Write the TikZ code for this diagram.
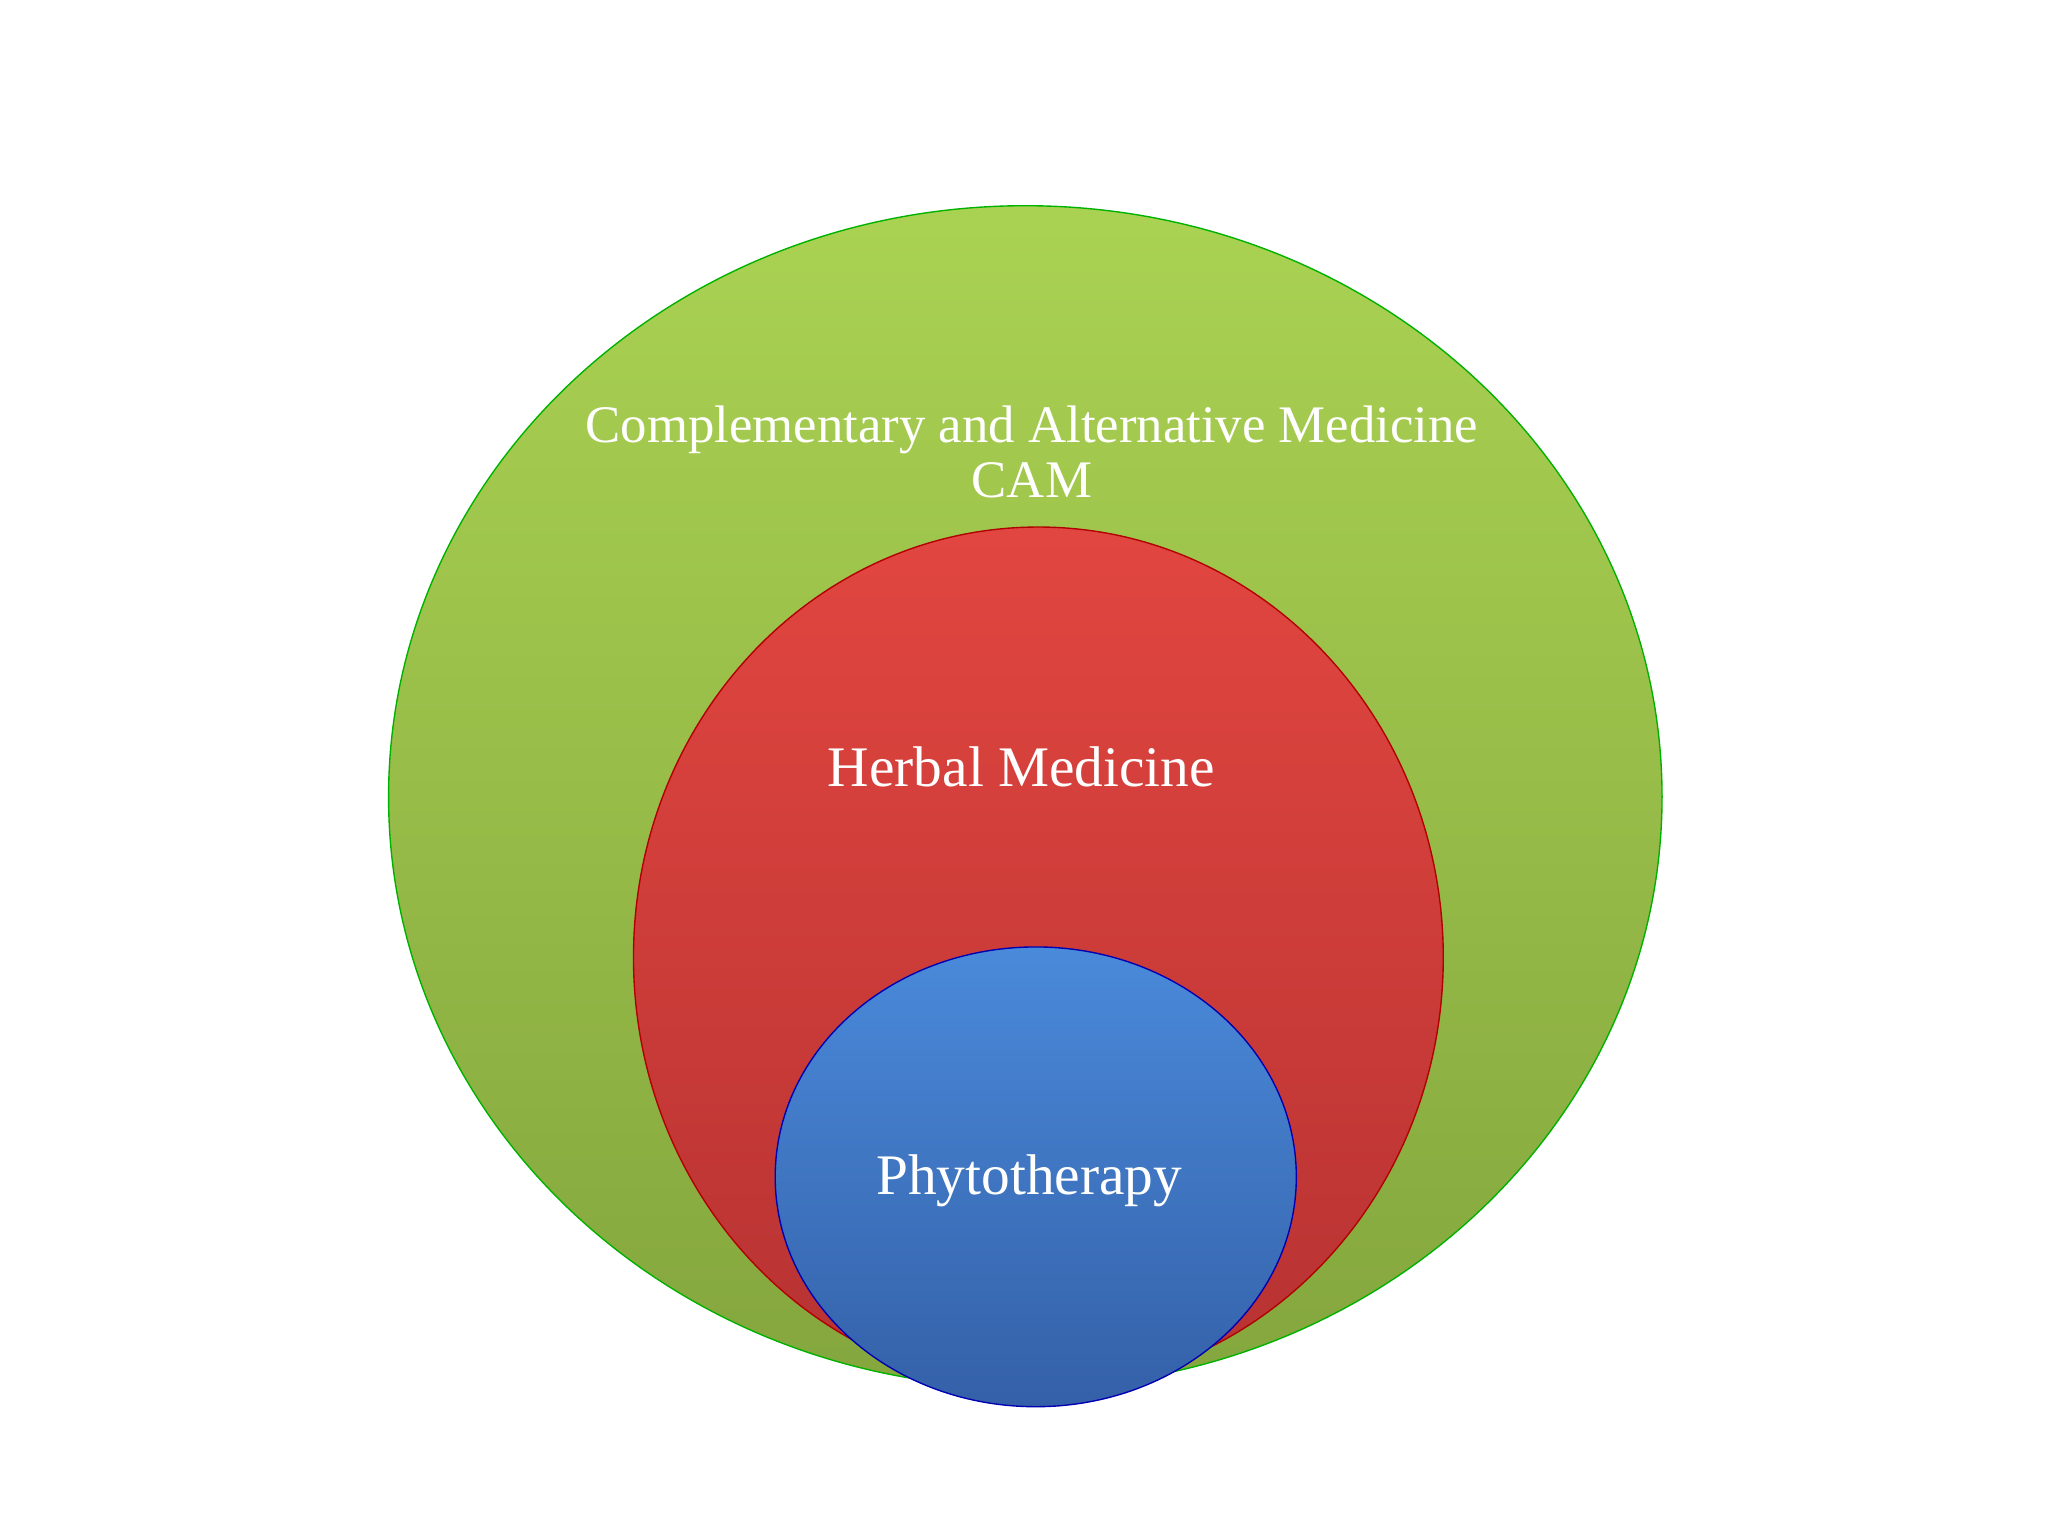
\documentclass[tikz,border=0pt]{standalone}
\usepackage{fontspec}
\setmainfont{Liberation Serif}
\tikzset{
 circ/.style={ellipse, draw=#1!70!black, line width=0.6pt, inner sep=0pt},
 lbl/.style={text=white, font=\fontsize{23}{27}\selectfont, align=center}
}
\usetikzlibrary{shapes.geometric}
\begin{document}
\begin{tikzpicture}[x=0.02cm,y=-0.02cm]
\useasboundingbox[fill=white] (0,0) rectangle (1568,1176);
\node[circ=green, minimum width=975*0.02cm, minimum height=905*0.02cm, top color={rgb,255:red,170;green,210;blue,82}, bottom color={rgb,255:red,132;green,166;blue,62}] (g) at (785,610) {};
\node[circ=red, minimum width=620*0.02cm, minimum height=659*0.02cm, top color={rgb,255:red,226;green,70;blue,64}, bottom color={rgb,255:red,182;green,50;blue,50}] (r) at (795,733) {};
\node[circ=blue, minimum width=399*0.02cm, minimum height=352*0.02cm, top color={rgb,255:red,74;green,138;blue,218}, bottom color={rgb,255:red,52;green,96;blue,168}] (b) at (793,901) {};
\node[lbl] (tg) at (790,346) {Complementary and Alternative Medicine\\[-3pt]CAM};
\node[lbl, font=\fontsize{25}{29}\selectfont] (tr) at (782,587) {Herbal Medicine};
\node[lbl, font=\fontsize{25}{29}\selectfont] (tb) at (788,904) {Phytotherapy};
\end{tikzpicture}
\end{document}
